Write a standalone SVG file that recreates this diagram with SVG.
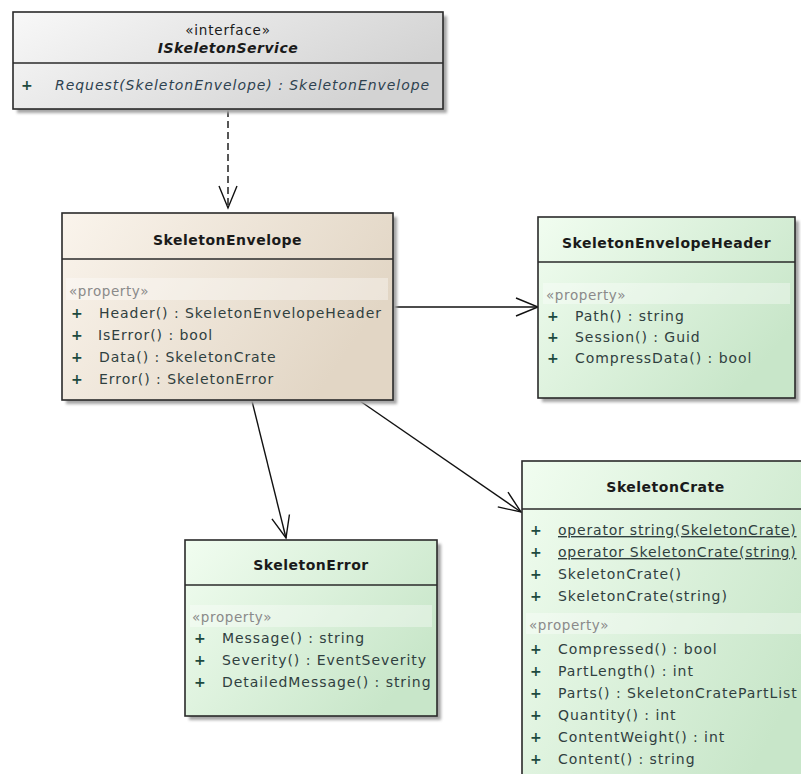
<svg xmlns="http://www.w3.org/2000/svg" width="801" height="774" viewBox="0 0 801 774">
  <defs>
    <linearGradient id="gGray" x1="0" y1="0" x2="1" y2="0.4">
      <stop offset="0" stop-color="#f8f8f8"/>
      <stop offset="1" stop-color="#d3d3d3"/>
    </linearGradient>
    <linearGradient id="gBeige" x1="0" y1="0" x2="1" y2="0.4">
      <stop offset="0" stop-color="#faf4ec"/>
      <stop offset="1" stop-color="#e2d6c5"/>
    </linearGradient>
    <linearGradient id="gGreen" x1="0" y1="0" x2="1" y2="0.6">
      <stop offset="0" stop-color="#f1fdf0"/>
      <stop offset="1" stop-color="#c8e6c9"/>
    </linearGradient>
    <filter id="shadow" x="-5%" y="-5%" width="115%" height="115%">
      <feGaussianBlur stdDeviation="1.6"/>
    </filter>
    <marker id="open" viewBox="-24 -11 26 22" refX="0" refY="0" markerWidth="26" markerHeight="22" markerUnits="userSpaceOnUse" orient="auto">
      <path d="M-22,-9 L0,0 L-22,9" fill="none" stroke="#111" stroke-width="1.4"/>
    </marker>
    <style>
      .box { stroke: #2a2a2a; stroke-width: 1.6; }
      .sh { fill: #a4a4a4; filter: url(#shadow); }
      .div { stroke: #2a2a2a; stroke-width: 1.4; }
      .band { fill: #ffffff; fill-opacity: 0.35; }
      text { font-family: "DejaVu Sans", Verdana, sans-serif; font-size: 14px; letter-spacing: 0.95px; }
      .title { font-weight: bold; fill: #1a1a1a; text-anchor: middle; letter-spacing: 0.5px; }
      .stereo { fill: #1a1a1a; text-anchor: middle; font-size: 13.5px; letter-spacing: 0.8px; }
      .prop { fill: #8a8a8a; font-size: 13.5px; letter-spacing: 0.6px; }
      .mem { fill: #30403f; }
      .plus { fill: #1e4a40; font-weight: bold; }
      .ital { font-style: italic; fill: #2e4250; }
      .ul { text-decoration: underline; letter-spacing: 0.8px; }
      .conn { stroke: #111; stroke-width: 1.4; fill: none; }
    </style>
  </defs>

  <!-- connectors -->
  <g id="connectors">
    <line class="conn" x1="228" y1="110" x2="228" y2="208" stroke-dasharray="7,4" marker-end="url(#open)"/>
    <line class="conn" x1="393" y1="307" x2="538" y2="307" marker-end="url(#open)"/>
    <line class="conn" x1="252" y1="401" x2="286" y2="538" marker-end="url(#open)"/>
    <line class="conn" x1="360" y1="401" x2="521" y2="512" marker-end="url(#open)"/>
  </g>

  <!-- interface ISkeletonService -->
  <g id="ISkeletonService">
    <rect class="sh" x="17" y="16" width="430" height="97"/>
    <rect class="box" x="13" y="12" width="430" height="97" fill="url(#gGray)"/>
    <line class="div" x1="13" y1="63" x2="443" y2="63"/>
    <text class="stereo" x="228" y="35">«interface»</text>
    <text class="title" x="228" y="53" font-style="italic">ISkeletonService</text>
    <text class="plus" x="21" y="90">+</text>
    <text class="ital" x="55" y="90">Request(SkeletonEnvelope) : SkeletonEnvelope</text>
  </g>

  <!-- class SkeletonEnvelope -->
  <g id="SkeletonEnvelope">
    <rect class="sh" x="66" y="217" width="331" height="187"/>
    <rect class="box" x="62" y="213" width="331" height="187" fill="url(#gBeige)"/>
    <line class="div" x1="62" y1="259" x2="393" y2="259"/>
    <text class="title" x="227.5" y="245">SkeletonEnvelope</text>
    <rect class="band" x="66" y="278" width="322" height="22"/>
    <text class="prop" x="69" y="296">«property»</text>
    <text class="plus" x="71" y="318">+</text>
    <text class="mem" x="99" y="318">Header() : SkeletonEnvelopeHeader</text>
    <text class="plus" x="71" y="340">+</text>
    <text class="mem" x="98" y="340">IsError() : bool</text>
    <text class="plus" x="71" y="362">+</text>
    <text class="mem" x="99" y="362">Data() : SkeletonCrate</text>
    <text class="plus" x="71" y="384">+</text>
    <text class="mem" x="99" y="384">Error() : SkeletonError</text>
  </g>

  <!-- class SkeletonEnvelopeHeader -->
  <g id="SkeletonEnvelopeHeader">
    <rect class="sh" x="542" y="221" width="257" height="181"/>
    <rect class="box" x="538" y="217" width="257" height="181" fill="url(#gGreen)"/>
    <line class="div" x1="538" y1="262" x2="795" y2="262"/>
    <text class="title" x="666.5" y="248">SkeletonEnvelopeHeader</text>
    <rect class="band" x="543" y="283" width="247" height="21"/>
    <text class="prop" x="546" y="300">«property»</text>
    <text class="plus" x="547" y="321">+</text>
    <text class="mem" x="575" y="321">Path() : string</text>
    <text class="plus" x="547" y="342">+</text>
    <text class="mem" x="575" y="342">Session() : Guid</text>
    <text class="plus" x="547" y="363">+</text>
    <text class="mem" x="575" y="363">CompressData() : bool</text>
  </g>

  <!-- class SkeletonError -->
  <g id="SkeletonError">
    <rect class="sh" x="189" y="544" width="252" height="176"/>
    <rect class="box" x="185" y="540" width="252" height="176" fill="url(#gGreen)"/>
    <line class="div" x1="185" y1="585" x2="437" y2="585"/>
    <text class="title" x="311" y="570">SkeletonError</text>
    <rect class="band" x="190" y="605" width="242" height="22"/>
    <text class="prop" x="192" y="622">«property»</text>
    <text class="plus" x="194" y="643">+</text>
    <text class="mem" x="222" y="643">Message() : string</text>
    <text class="plus" x="194" y="665">+</text>
    <text class="mem" x="222" y="665">Severity() : EventSeverity</text>
    <text class="plus" x="194" y="687">+</text>
    <text class="mem" x="222" y="687">DetailedMessage() : string</text>
  </g>

  <!-- class SkeletonCrate (runs past the right and bottom edges) -->
  <g id="SkeletonCrate">
    <rect class="box" x="522" y="461" width="290" height="330" fill="url(#gGreen)"/>
    <line class="div" x1="522" y1="509" x2="812" y2="509"/>
    <text class="title" x="665.5" y="492">SkeletonCrate</text>
    <text class="plus" x="530" y="535">+</text>
    <text class="mem ul" x="558" y="535">operator string(SkeletonCrate)</text>
    <text class="plus" x="530" y="557">+</text>
    <text class="mem ul" x="558" y="557">operator SkeletonCrate(string)</text>
    <text class="plus" x="530" y="579">+</text>
    <text class="mem" x="558" y="579">SkeletonCrate()</text>
    <text class="plus" x="530" y="601">+</text>
    <text class="mem" x="558" y="601">SkeletonCrate(string)</text>
    <rect class="band" x="526" y="613" width="280" height="21"/>
    <text class="prop" x="529" y="630">«property»</text>
    <text class="plus" x="530" y="654">+</text>
    <text class="mem" x="558" y="654">Compressed() : bool</text>
    <text class="plus" x="530" y="676">+</text>
    <text class="mem" x="558" y="676">PartLength() : int</text>
    <text class="plus" x="530" y="698">+</text>
    <text class="mem" x="558" y="698">Parts() : SkeletonCratePartList</text>
    <text class="plus" x="530" y="720">+</text>
    <text class="mem" x="558" y="720">Quantity() : int</text>
    <text class="plus" x="530" y="742">+</text>
    <text class="mem" x="558" y="742">ContentWeight() : int</text>
    <text class="plus" x="530" y="764">+</text>
    <text class="mem" x="558" y="764">Content() : string</text>
  </g>
</svg>
